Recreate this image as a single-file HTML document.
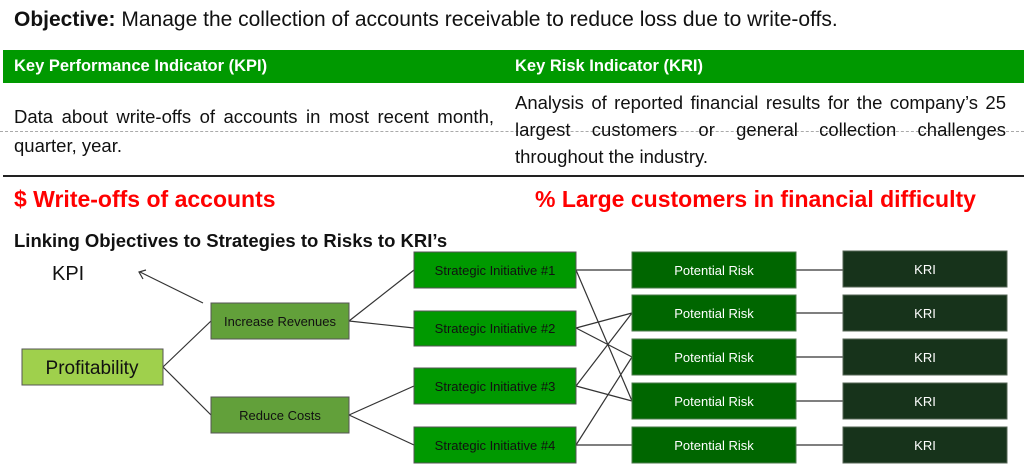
<!DOCTYPE html>
<html><head><meta charset="utf-8"><style>
body{margin:0;width:1024px;height:467px;position:relative;background:#fff;font-family:"Liberation Sans",Arial,sans-serif;overflow:hidden}
.a{position:absolute;white-space:nowrap}
.l{position:absolute;font-size:18.5px;color:#111;white-space:nowrap;text-align:justify;text-align-last:justify}
.n{text-align-last:left}
</style></head><body>
<div class="a" style="left:14px;top:8px;font-size:21px;color:#111"><b>Objective:</b> Manage the collection of accounts receivable to reduce loss due to write-offs.</div>
<div class="a" style="left:3px;top:50px;width:1021px;height:33px;background:#009900"></div>
<div class="a" style="left:14px;top:57px;font-size:16.5px;font-weight:bold;color:#fff">Key Performance Indicator (KPI)</div>
<div class="a" style="left:515px;top:57px;font-size:16.5px;font-weight:bold;color:#fff">Key Risk Indicator (KRI)</div>
<div class="a" style="left:0;top:131px;width:1024px;border-top:1px dashed #aaa"></div>
<div class="l" style="left:14px;top:106px;width:480px">Data about write-offs of accounts in most recent month,</div>
<div class="l n" style="left:14px;top:135px;width:480px">quarter, year.</div>
<div class="l" style="left:515px;top:92px;width:491px">Analysis of reported financial results for the company’s 25</div>
<div class="l" style="left:515px;top:119px;width:491px">largest customers or general collection challenges</div>
<div class="l n" style="left:515px;top:146px;width:491px">throughout the industry.</div>
<div class="a" style="left:3px;top:175px;width:1021px;height:2px;background:#222"></div>
<div class="a" style="left:14px;top:186px;font-size:23px;font-weight:bold;color:#ff0000">$ Write-offs of accounts</div>
<div class="a" style="left:535px;top:186px;font-size:23px;font-weight:bold;color:#ff0000">% Large customers in financial difficulty</div>
<div class="a" style="left:14px;top:230px;font-size:18.5px;font-weight:bold;color:#111">Linking Objectives to Strategies to Risks to KRI’s</div>
<svg class="a" style="left:0;top:0" width="1024" height="467" font-family="Liberation Sans,Arial,sans-serif">
<g stroke="#333" stroke-width="1.2" fill="none">
<line x1="203" y1="303" x2="140" y2="272"/>
<polyline points="146,270 139,272 143,279"/>
<line x1="163" y1="367" x2="211" y2="321"/>
<line x1="163" y1="367" x2="211" y2="415"/>
<line x1="349" y1="321" x2="414" y2="270"/>
<line x1="349" y1="321" x2="414" y2="328"/>
<line x1="349" y1="415" x2="414" y2="386"/>
<line x1="349" y1="415" x2="414" y2="445"/>
<line x1="576" y1="270" x2="632" y2="270"/>
<line x1="576" y1="270" x2="632" y2="401"/>
<line x1="576" y1="328" x2="632" y2="313"/>
<line x1="576" y1="328" x2="632" y2="357"/>
<line x1="576" y1="386" x2="632" y2="313"/>
<line x1="576" y1="386" x2="632" y2="401"/>
<line x1="576" y1="445" x2="632" y2="357"/>
<line x1="576" y1="445" x2="632" y2="445"/>
<line x1="796" y1="270" x2="843" y2="270"/>
<line x1="796" y1="313" x2="843" y2="313"/>
<line x1="796" y1="357" x2="843" y2="357"/>
<line x1="796" y1="401" x2="843" y2="401"/>
<line x1="796" y1="445" x2="843" y2="445"/>
</g>
<text x="52" y="280" font-size="20" fill="#111">KPI</text>
<g stroke="#555" stroke-width="1">
<rect x="22" y="349" width="141" height="36" fill="#9fd04c"/>
<rect x="211" y="303" width="138" height="36" fill="#62a03a"/>
<rect x="211" y="397" width="138" height="36" fill="#62a03a"/>
<rect x="414" y="252" width="162" height="36" fill="#009900"/>
<rect x="414" y="311" width="162" height="35" fill="#009900"/>
<rect x="414" y="368" width="162" height="36" fill="#009900"/>
<rect x="414" y="427" width="162" height="36" fill="#009900"/>
</g>
<g fill="#006600" stroke="#4a7a4a" stroke-width="1">
<rect x="632" y="252" width="164" height="36"/><rect x="632" y="295" width="164" height="36"/><rect x="632" y="339" width="164" height="36"/><rect x="632" y="383" width="164" height="36"/><rect x="632" y="427" width="164" height="36"/>
</g>
<g fill="#17331b" stroke="#556655" stroke-width="1">
<rect x="843" y="251" width="164" height="36"/><rect x="843" y="295" width="164" height="36"/><rect x="843" y="339" width="164" height="36"/><rect x="843" y="383" width="164" height="36"/><rect x="843" y="427" width="164" height="36"/>
</g>
<g text-anchor="middle" fill="#111">
<text x="92" y="374" font-size="19">Profitability</text>
<text x="280" y="326" font-size="13">Increase Revenues</text>
<text x="280" y="420" font-size="13">Reduce Costs</text>
<text x="495" y="275" font-size="13">Strategic Initiative #1</text>
<text x="495" y="333" font-size="13">Strategic Initiative #2</text>
<text x="495" y="391" font-size="13">Strategic Initiative #3</text>
<text x="495" y="450" font-size="13">Strategic Initiative #4</text>
</g>
<g text-anchor="middle" fill="#fff" font-size="13">
<text x="714" y="275">Potential Risk</text><text x="714" y="318">Potential Risk</text><text x="714" y="362">Potential Risk</text><text x="714" y="406">Potential Risk</text><text x="714" y="450">Potential Risk</text>
<text x="925" y="274">KRI</text><text x="925" y="318">KRI</text><text x="925" y="362">KRI</text><text x="925" y="406">KRI</text><text x="925" y="450">KRI</text>
</g>
</svg>
</body></html>
